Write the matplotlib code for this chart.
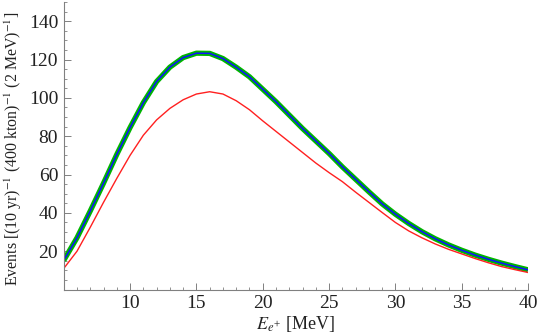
import matplotlib
matplotlib.use("Agg")
import matplotlib.pyplot as plt
from matplotlib.ticker import MultipleLocator

plt.rcParams['font.family'] = ['Liberation Serif', 'DejaVu Serif']
plt.rcParams['mathtext.fontset'] = 'stix'

#------------------------------------------------------------------------------
# Data
#------------------------------------------------------------------------------

energy = list(range(5, 41))

events_total = [15.2, 27, 41, 55.5, 70.5, 84.5, 97.5, 108.5, 116, 121, 123.3,
                123.2, 120.5, 116, 111, 104.5, 98, 91, 84, 77.5, 71, 64,
                57.5, 51, 44.7, 39.3, 34.5, 30.2, 26.5, 23.3, 20.5, 18, 15.8,
                13.8, 12, 10.3]

events_red = [11, 20, 32.5, 45.5, 58, 70, 80.5, 88.5, 94.5, 99, 102, 103.2,
              102, 98.5, 93.8, 88, 82.5, 77, 71.5, 66, 61, 56.3, 50.8, 45.5,
              40.2, 35, 30.6, 27, 23.8, 21, 18.6, 16.2, 14, 12, 10.4, 8.9]

xticks = [10, 15, 20, 25, 30, 35, 40]
yticks = [20, 40, 60, 80, 100, 120, 140]

#------------------------------------------------------------------------------
# Plot
#------------------------------------------------------------------------------

fig = plt.figure(figsize=(5.40, 3.34), dpi=100)
ax = fig.add_axes([0.118, 0.133, 0.860, 0.861])

ax.plot(energy, events_total, color="#00b400", lw=3.8, solid_capstyle="butt")
ax.plot(energy, events_total, color="#1010ff", lw=1.1)
ax.plot(energy, events_red, color="#ff2020", lw=1.0)

ax.set_xlim(5, 40)
ax.set_ylim(0, 150)
ax.set_xticks(xticks)
ax.set_yticks(yticks)
ax.xaxis.set_minor_locator(MultipleLocator(1))
ax.yaxis.set_minor_locator(MultipleLocator(5))

for side in ["top", "right"]:
    ax.spines[side].set_visible(False)
for side in ["left", "bottom"]:
    ax.spines[side].set_color("#808080")
    ax.spines[side].set_linewidth(0.8)

ax.tick_params(which="both", direction="in", colors="#808080", labelcolor="#222222",
               labelsize=14, pad=4)
ax.tick_params(which="major", length=5, width=0.7)
ax.tick_params(which="minor", length=2.5, width=0.6)

ax.set_xlabel(r"$E_{e^{+}}$ [MeV]", fontsize=13, labelpad=1, color="#222222")
ax.set_ylabel(r"Events [(10 yr)$^{-1}$ (400 kton)$^{-1}$ (2 MeV)$^{-1}$]",
              fontsize=11.4, color="#222222")
ax.yaxis.set_label_coords(-0.085, 0.49)

fig.savefig("out.png", dpi=100)
